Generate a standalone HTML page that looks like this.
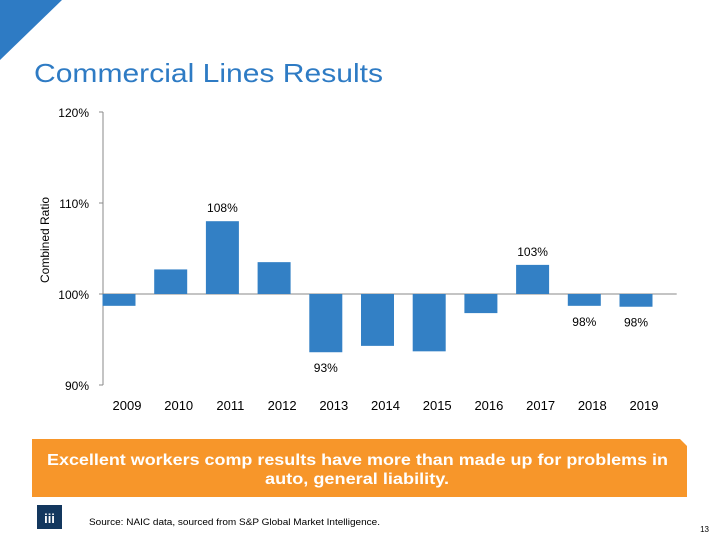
<!DOCTYPE html>
<html><head><meta charset="utf-8"><style>
body{margin:0;width:720px;height:540px;background:#fff;position:relative;overflow:hidden;font-family:"Liberation Sans",sans-serif}
.a{position:absolute}
</style></head><body>
<svg class="a" style="left:0;top:0" width="720" height="540">
<polygon points="0,0 62,0 0,60" fill="#2e7bc4"/>
<text x="34" y="82" font-size="26" fill="#2e7bc4" textLength="349" lengthAdjust="spacingAndGlyphs">Commercial Lines Results</text>
<g id="chart"></g>
<polygon points="32,439 680,439 687,446 687,497 32,497" fill="#f7962a"/>
<text x="47" y="465" font-size="16" font-weight="bold" fill="#fff" textLength="621" lengthAdjust="spacingAndGlyphs">Excellent workers comp results have more than made up for problems in</text>
<text x="265" y="484" font-size="16" font-weight="bold" fill="#fff" textLength="184" lengthAdjust="spacingAndGlyphs">auto, general liability.</text>
<rect x="37" y="505" width="25" height="24" fill="#13375e"/>
<text x="49.5" y="523" font-size="13" font-weight="bold" fill="#fff" text-anchor="middle">iii</text>
<text x="89" y="525" font-size="9" fill="#000" textLength="291" lengthAdjust="spacingAndGlyphs">Source: NAIC data, sourced from S&amp;P Global Market Intelligence.</text>
<text x="709" y="532" font-size="8" fill="#000" text-anchor="end">13</text>
</svg>
<script>
const years=["2009","2010","2011","2012","2013","2014","2015","2016","2017","2018","2019"];
const ratios=[98.7,102.7,108.0,103.5,93.6,94.3,93.7,97.9,103.2,98.7,98.6];
const labeled=[null,null,"108%",null,"93%",null,null,null,"103%","98%","98%"];
const yTicks=[90,100,110,120];
const NS="http://www.w3.org/2000/svg";
const g=document.getElementById('chart');
const y=v=>385-(v-90)*(273/30);
const x0=103,step=51.7,x=i=>x0+16+step*i;
function mk(t,a,txt){const e=document.createElementNS(NS,t);for(const k in a)e.setAttribute(k,a[k]);if(txt!=null)e.textContent=txt;g.appendChild(e);return e;}
let e=mk('line',{x1:x0,y1:y(120),x2:x0,y2:y(90),stroke:'#888'});

yTicks.forEach(t=>{
 let l=mk('line',{x1:x0-4,x2:x0,y1:y(t),y2:y(t),stroke:'#888'});
 
 let tx=mk('text',{x:89,y:y(t)+5,'font-size':12,'text-anchor':'end',fill:'#000'},t+'%');
 
});
e=mk('line',{x1:x0,x2:x0+step*11+5,y1:y(100),y2:y(100),stroke:'#888'});

years.forEach((yr,i)=>{
 const v=ratios[i],top=Math.min(y(v),y(100)),h=Math.abs(y(v)-y(100));
 let r=mk('rect',{x:x(i)-16.5,y:top,width:33,height:h,fill:'#3380c5'});
 
 let l=mk('text',{x:x(i)+8,y:410,'font-size':13,'text-anchor':'middle',fill:'#000'},yr);
 
 if(labeled[i]){
  const ly=v>100?y(v)-9:y(v)+20;
  let d=mk('text',{x:x(i),y:ly,'font-size':12,'text-anchor':'middle',fill:'#000'},labeled[i]);
  
 }
});
e=mk('text',{x:0,y:0,'font-size':12,'text-anchor':'middle',fill:'#000',transform:'translate(49,240) rotate(-90)'},'Combined Ratio');

</script>
</body></html>
